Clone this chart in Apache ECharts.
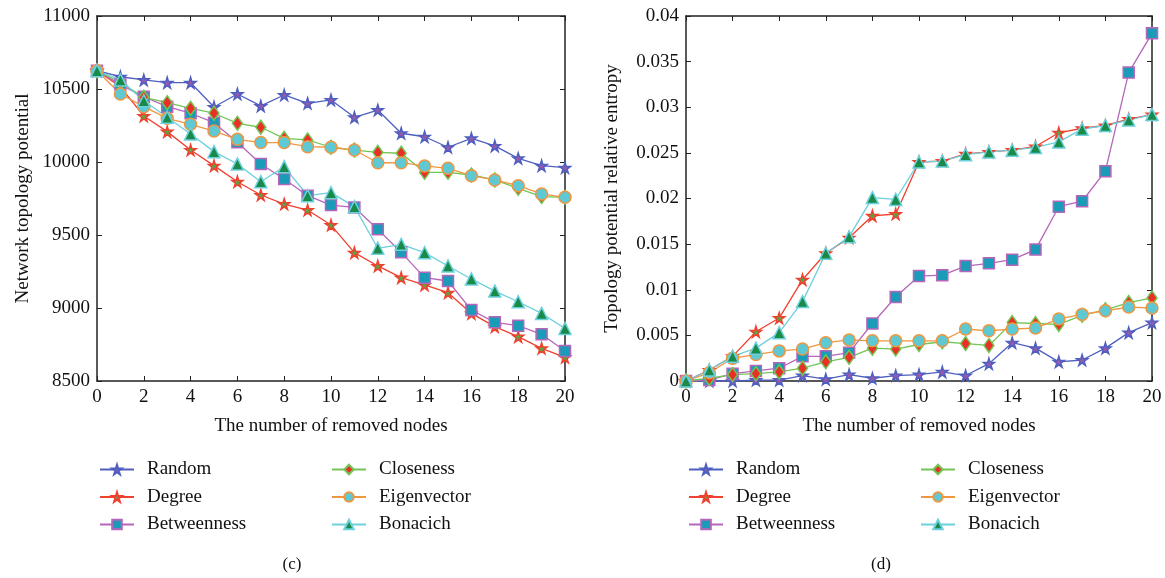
<!DOCTYPE html>
<html>
<head>
<meta charset="utf-8">
<script src="https://cdn.jsdelivr.net/npm/echarts@6/dist/echarts.min.js"></script>
<style>
  html, body { margin: 0; padding: 0; background: #fff; }
  #main { width: 1165px; height: 578px; }
</style>
</head>
<body>
<div id="main"></div>
<script>
// 数据
let removed = [0, 1, 2, 3, 4, 5, 6, 7, 8, 9, 10, 11, 12, 13, 14, 15, 16, 17, 18, 19, 20]
let methods = ['Random', 'Degree', 'Betweenness', 'Closeness', 'Eigenvector', 'Bonacich']

// (c) Network topology potential
let potRandom = [10625, 10584, 10562, 10543, 10543, 10377, 10466, 10384, 10459, 10402, 10425, 10306, 10356, 10197, 10173, 10101, 10162, 10110, 10025, 9975, 9961]
let potDegree = [10625, 10515, 10315, 10208, 10082, 9975, 9865, 9774, 9712, 9671, 9568, 9379, 9288, 9208, 9158, 9105, 8963, 8872, 8804, 8724, 8662]
let potBetweenness = [10625, 10530, 10447, 10379, 10334, 10269, 10135, 9986, 9884, 9769, 9705, 9689, 9539, 9381, 9208, 9185, 8986, 8902, 8879, 8820, 8705]
let potCloseness = [10625, 10545, 10443, 10406, 10368, 10334, 10265, 10238, 10162, 10151, 10101, 10082, 10066, 10060, 9929, 9929, 9911, 9877, 9820, 9763, 9758]
let potEigenvector = [10625, 10466, 10379, 10299, 10258, 10212, 10155, 10133, 10133, 10105, 10101, 10082, 9995, 9995, 9973, 9957, 9906, 9877, 9838, 9781, 9758]
let potBonacich = [10625, 10562, 10420, 10306, 10192, 10071, 9986, 9865, 9968, 9769, 9790, 9694, 9409, 9436, 9379, 9288, 9199, 9116, 9043, 8963, 8860]

// (d) Topology potential relative entropy
let entRandom = [0, 0.0000, 0.0000, 0.0001, 0.0001, 0.0006, 0.0002, 0.0007, 0.0003, 0.0006, 0.0007, 0.0010, 0.0006, 0.0019, 0.0042, 0.0036, 0.0021, 0.0023, 0.0036, 0.0053, 0.0064]
let entDegree = [0, 0.0012, 0.0027, 0.0054, 0.0069, 0.0111, 0.0140, 0.0157, 0.0181, 0.0183, 0.0240, 0.0241, 0.0249, 0.0251, 0.0253, 0.0257, 0.0272, 0.0277, 0.0280, 0.0287, 0.0292]
let entBetweenness = [0, 0.0001, 0.0008, 0.0011, 0.0014, 0.0027, 0.0027, 0.0031, 0.0063, 0.0092, 0.0115, 0.0116, 0.0126, 0.0129, 0.0133, 0.0144, 0.0191, 0.0197, 0.0230, 0.0338, 0.0381]
let entCloseness = [0, 0.0003, 0.0007, 0.0008, 0.0010, 0.0014, 0.0021, 0.0026, 0.0036, 0.0035, 0.0040, 0.0043, 0.0041, 0.0039, 0.0064, 0.0063, 0.0062, 0.0072, 0.0078, 0.0086, 0.0091]
let entEigenvector = [0, 0.0009, 0.0025, 0.0029, 0.0033, 0.0035, 0.0042, 0.0045, 0.0044, 0.0044, 0.0044, 0.0044, 0.0057, 0.0055, 0.0057, 0.0058, 0.0068, 0.0073, 0.0077, 0.0081, 0.0080]
let entBonacich = [0, 0.0012, 0.0027, 0.0036, 0.0053, 0.0087, 0.0140, 0.0158, 0.0201, 0.0199, 0.0240, 0.0241, 0.0248, 0.0251, 0.0253, 0.0256, 0.0262, 0.0276, 0.0280, 0.0286, 0.0292]

let potData = [potRandom, potDegree, potBetweenness, potCloseness, potEigenvector, potBonacich]
let entData = [entRandom, entDegree, entBetweenness, entCloseness, entEigenvector, entBonacich]

// 样式：线色、标记形状、标记填充
let star = 'path://M50,0 L61,35 L98,35 L68,57 L79,91 L50,70 L21,91 L32,57 L2,35 L39,35 Z'
let styles = [
  { line: '#4f5fc0', symbol: star, fill: '#9b58ad', size: 11 },
  { line: '#f0402e', symbol: star, fill: '#5aa544', size: 11 },
  { line: '#b566bb', symbol: 'rect', fill: '#1a9bb8', size: 11 },
  { line: '#72c655', symbol: 'diamond', fill: '#ea2f26', size: [10, 14] },
  { line: '#f19640', symbol: 'circle', fill: '#5ec9d3', size: 12 },
  { line: '#6dd0dd', symbol: 'triangle', fill: '#1a8a48', size: 12 }
]

let font = 'Liberation Serif'
let axisColor = '#222'

function pairs(arr) {
  return arr.map((v, i) => [removed[i], v])
}

function makeSeries(dataList, axisIdx) {
  return dataList.map((arr, k) => ({
    name: methods[k],
    type: 'line',
    xAxisIndex: axisIdx,
    yAxisIndex: axisIdx,
    data: pairs(arr),
    symbol: styles[k].symbol,
    symbolSize: styles[k].size,
    clip: false,
    lineStyle: { color: styles[k].line, width: 1.3 },
    itemStyle: { color: styles[k].fill, borderColor: styles[k].line, borderWidth: 1.5 },
    emphasis: { disabled: true }
  }))
}

function xAxes(gridIndex) {
  let base = {
    type: 'value', gridIndex: gridIndex, min: 0, max: 20, interval: 2,
    axisLine: { onZero: false, lineStyle: { color: axisColor, width: 1.5 } },
    axisTick: { inside: true, length: 5, lineStyle: { color: axisColor } },
    splitLine: { show: false }
  }
  return [
    Object.assign({}, base, {
      position: 'bottom',
      name: 'The number of removed nodes',
      nameLocation: 'middle',
      nameGap: 36,
      nameTextStyle: { fontFamily: font, fontSize: 19, color: '#111' },
      axisLabel: { fontFamily: font, fontSize: 19, color: '#111', margin: 7 }
    }),
    Object.assign({}, base, { position: 'top', axisLabel: { show: false } })
  ]
}

function yAxes(gridIndex, min, max, interval, name, gap) {
  let base = {
    type: 'value', gridIndex: gridIndex, min: min, max: max, interval: interval,
    axisLine: { show: true, onZero: false, lineStyle: { color: axisColor, width: 1.5 } },
    axisTick: { show: true, inside: true, length: 5, lineStyle: { color: axisColor } },
    splitLine: { show: false }
  }
  return [
    Object.assign({}, base, {
      position: 'left',
      name: name,
      nameLocation: 'middle',
      nameGap: gap,
      nameTextStyle: { fontFamily: font, fontSize: 19, color: '#111' },
      axisLabel: {
        fontFamily: font, fontSize: 19, color: '#111', margin: 7,
        formatter: v => String(Math.round(v * 1000000) / 1000000)
      }
    }),
    Object.assign({}, base, { position: 'right', axisLabel: { show: false } })
  ]
}

function legendBlock(names, left, top) {
  return {
    data: names,
    orient: 'vertical',
    left: left,
    top: top,
    padding: 0,
    itemWidth: 34,
    itemHeight: 12,
    itemGap: 8.5,
    selectedMode: false,
    textStyle: { fontFamily: font, fontSize: 19, color: '#111', padding: [0, 0, 0, 8] }
  }
}

let myChart = echarts.init(document.getElementById('main'), null, { renderer: 'canvas' })

let option = {
  backgroundColor: '#fff',
  animation: false,
  title: [
    { text: '(c)', left: 287, top: 551, textAlign: 'center', textStyle: { fontFamily: font, fontSize: 17, fontWeight: 'normal', color: '#111' } },
    { text: '(d)', left: 876, top: 551, textAlign: 'center', textStyle: { fontFamily: font, fontSize: 17, fontWeight: 'normal', color: '#111' } }
  ],
  legend: [
    legendBlock(['Random', 'Degree', 'Betweenness'], 99, 460),
    legendBlock(['Closeness', 'Eigenvector', 'Bonacich'], 331, 460),
    legendBlock(['Random', 'Degree', 'Betweenness'], 688, 460),
    legendBlock(['Closeness', 'Eigenvector', 'Bonacich'], 920, 460)
  ],
  grid: [
    { left: 97, top: 16, width: 468, height: 365 },
    { left: 686, top: 16, width: 466, height: 365 }
  ],
  xAxis: [].concat(xAxes(0), xAxes(1)),
  yAxis: [].concat(
    yAxes(0, 8500, 11000, 500, 'Network topology potential', 64),
    yAxes(1, 0, 0.04, 0.005, 'Topology potential relative entropy', 64)
  ),
  series: [].concat(makeSeries(potData, 0), makeSeries(entData, 2))
}

myChart.setOption(option)
</script>
</body>
</html>
